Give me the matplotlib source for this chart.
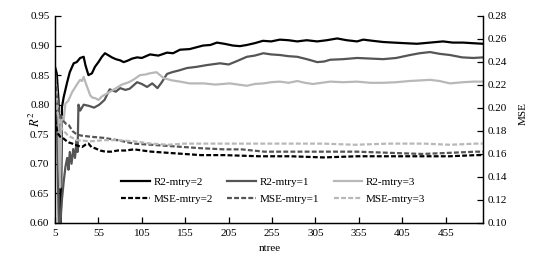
import matplotlib
matplotlib.use("Agg")
import matplotlib.pyplot as plt
import numpy as np

plt.rcParams['font.family'] = ['Liberation Serif', 'DejaVu Serif']
plt.rcParams['mathtext.fontset'] = 'stix'
plt.rcParams['font.size'] = 8

# R2 series (left axis)
n_r2_m2 = [5, 7, 9, 11, 11.5, 13, 15, 19, 22, 26.5, 30, 34, 38, 40, 43.5, 47.5, 51, 55, 59, 62.5,
           66, 70.5, 75, 80, 84, 88, 94, 99.5, 105, 114.5, 124, 134, 141, 149, 160, 175.5, 184, 191.5,
           200, 210, 218, 226, 235, 244.5, 254, 264, 274, 284, 295, 307, 318, 330, 341, 353, 360, 371,
           383, 395, 408, 422, 437, 452, 463, 475, 486, 498]
r2_m2 = [0.864, 0.853, 0.808, 0.685, 0.57, 0.796, 0.813, 0.838, 0.855, 0.870, 0.872, 0.879, 0.881,
         0.867, 0.850, 0.853, 0.864, 0.872, 0.881, 0.887, 0.884, 0.880, 0.877, 0.875, 0.872, 0.874,
         0.878, 0.880, 0.879, 0.885, 0.883, 0.888, 0.887, 0.893, 0.894, 0.900, 0.901, 0.905, 0.903,
         0.900, 0.899, 0.901, 0.904, 0.908, 0.907, 0.910, 0.909, 0.907, 0.909, 0.907, 0.909, 0.912,
         0.909, 0.907, 0.910, 0.908, 0.906, 0.905, 0.904, 0.903, 0.905, 0.907, 0.905, 0.905, 0.904, 0.903]

n_r2_m1 = [5, 7, 9, 10, 12, 13, 15, 17, 19, 20.5, 22, 24, 26, 28, 30, 31, 32, 34, 38, 44, 50, 56, 62,
           68, 75, 80, 86, 91, 99.5, 105, 111, 117, 123, 128, 134, 140, 148, 157, 168, 180, 195, 205,
           215, 226, 235, 245, 254, 264, 274, 284, 295, 307, 315, 322, 337, 353, 368, 383, 398, 414,
           425, 437, 448, 460, 474, 487, 498]
r2_m1 = [0.835, 0.80, 0.62, 0.56, 0.62, 0.64, 0.67, 0.695, 0.71, 0.69, 0.72, 0.70, 0.725, 0.71, 0.74,
         0.72, 0.80, 0.79, 0.80, 0.798, 0.795, 0.80, 0.808, 0.826, 0.822, 0.828, 0.825, 0.827, 0.838,
         0.835, 0.830, 0.836, 0.828, 0.838, 0.852, 0.855, 0.858, 0.862, 0.864, 0.867, 0.870, 0.868,
         0.874, 0.881, 0.883, 0.887, 0.885, 0.884, 0.882, 0.881, 0.877, 0.872, 0.873, 0.876, 0.877,
         0.879, 0.878, 0.877, 0.879, 0.884, 0.887, 0.889, 0.886, 0.884, 0.880, 0.879, 0.880]

n_r2_m3 = [5, 7, 9, 10, 11, 12, 13, 15, 17, 20, 22.5, 25, 28.5, 31, 34, 36, 38, 40, 42, 45.5, 48,
           51.5, 55, 59, 65, 72, 82, 90, 95, 103, 109, 114, 122, 130, 140, 149, 160, 176, 190, 206,
           216, 226, 235, 245, 254, 264, 274, 284, 293, 302, 312, 322, 337, 353, 368, 383, 398, 413,
           425, 437, 448, 460, 475, 487, 498]
r2_m3 = [0.853, 0.82, 0.78, 0.70, 0.66, 0.75, 0.78, 0.775, 0.802, 0.806, 0.814, 0.822, 0.830, 0.836,
         0.842, 0.840, 0.847, 0.838, 0.830, 0.816, 0.812, 0.811, 0.808, 0.814, 0.819, 0.825, 0.834,
         0.838, 0.842, 0.850, 0.851, 0.853, 0.855, 0.845, 0.841, 0.839, 0.836, 0.836, 0.834, 0.836,
         0.834, 0.832, 0.835, 0.836, 0.838, 0.839, 0.837, 0.840, 0.837, 0.835, 0.837, 0.839, 0.838,
         0.839, 0.837, 0.837, 0.838, 0.840, 0.841, 0.842, 0.840, 0.836, 0.838, 0.839, 0.839]

# MSE series (right axis)
n_mse_m2 = [5, 8, 11, 14, 17, 21, 25, 28, 32, 36, 40, 43.5, 47, 51, 57, 63, 70, 77, 86, 96, 106,
            116, 135, 154, 173, 200, 240, 276, 314, 353, 390, 428, 460, 490, 498]
mse_m2 = [0.19, 0.178, 0.175, 0.174, 0.172, 0.170, 0.169, 0.168, 0.167, 0.166, 0.168, 0.169, 0.166,
          0.165, 0.163, 0.162, 0.162, 0.163, 0.163, 0.164, 0.163, 0.162, 0.161, 0.160, 0.159, 0.159,
          0.158, 0.158, 0.157, 0.158, 0.158, 0.158, 0.158, 0.159, 0.159]

n_mse_m1 = [5, 7, 9, 13, 18, 21, 25, 30, 35, 46, 61, 77, 96, 116, 135, 154, 173, 200, 220, 246, 276,
            295, 330, 353, 390, 428, 460, 490, 498]
mse_m1 = [0.225, 0.21, 0.198, 0.19, 0.186, 0.185, 0.18, 0.177, 0.176, 0.175, 0.174, 0.172, 0.169,
          0.168, 0.167, 0.166, 0.165, 0.164, 0.164, 0.162, 0.162, 0.162, 0.162, 0.162, 0.161, 0.160,
          0.161, 0.162, 0.162]

n_mse_m3 = [5, 8, 12.7, 20, 30, 46, 61, 77, 96, 116, 135, 154, 173, 200, 246, 276, 314, 350, 390,
            430, 460, 490, 498]
mse_m3 = [0.215, 0.195, 0.182, 0.176, 0.172, 0.171, 0.172, 0.172, 0.171, 0.169, 0.168, 0.169, 0.169,
          0.169, 0.169, 0.169, 0.169, 0.168, 0.169, 0.169, 0.168, 0.169, 0.169]

xticks = [5, 55, 105, 155, 205, 255, 305, 355, 405, 455]

black = '#000000'
dark = '#555555'
light = '#b8b8b8'

fig = plt.figure(figsize=(5.58, 2.62), dpi=100)
ax = fig.add_axes([0.0986, 0.149, 0.767, 0.790])
ax2 = ax.twinx()

dash = (2.2, 1.0)
l1, = ax.plot(n_r2_m2, r2_m2, color=black, lw=1.6, label='R2-mtry=2')
l2, = ax.plot(n_r2_m1, r2_m1, color=dark, lw=1.6, label='R2-mtry=1')
l3, = ax.plot(n_r2_m3, r2_m3, color=light, lw=1.6, label='R2-mtry=3')
m1, = ax2.plot(n_mse_m2, mse_m2, color=black, lw=1.6, dashes=dash, label='MSE-mtry=2')
m2, = ax2.plot(n_mse_m1, mse_m1, color=dark, lw=1.6, dashes=dash, label='MSE-mtry=1')
m3, = ax2.plot(n_mse_m3, mse_m3, color=light, lw=1.6, dashes=dash, label='MSE-mtry=3')

ax.set_xlim(5, 498)
ax.set_ylim(0.60, 0.95)
ax2.set_ylim(0.10, 0.28)
ax.set_xticks(xticks)
ax.set_yticks(np.arange(0.60, 0.951, 0.05))
ax2.set_yticks(np.arange(0.10, 0.281, 0.02))
ax.yaxis.set_major_formatter(matplotlib.ticker.FormatStrFormatter('%.2f'))
ax2.yaxis.set_major_formatter(matplotlib.ticker.FormatStrFormatter('%.2f'))

for a in (ax, ax2):
    a.spines['top'].set_visible(False)
    for s in a.spines.values():
        s.set_linewidth(0.9)
    a.tick_params(direction='in', length=4, width=0.9, labelsize=8)
ax.tick_params(axis='y', pad=4)
ax.tick_params(axis='x', pad=4)
ax2.tick_params(axis='y', pad=3)

ax.set_xlabel('ntree', fontsize=8)
ax.xaxis.set_label_coords(0.502, -0.10)
ax.set_ylabel(r'$R^2$', fontsize=9)
ax.yaxis.set_label_coords(-0.028, 0.50)
ax2.set_ylabel('MSE', fontsize=8)
ax2.yaxis.set_label_coords(1.084, 0.53)

ax2.legend([l1, m1, l2, m2, l3, m3],
           ['R2-mtry=2', 'MSE-mtry=2', 'R2-mtry=1', 'MSE-mtry=1', 'R2-mtry=3', 'MSE-mtry=3'],
           ncol=3, frameon=False, loc='lower center', bbox_to_anchor=(0.51, 0.045),
           handlelength=2.6, columnspacing=1.3, handletextpad=0.3, labelspacing=0.6,
           fontsize=8)

fig.savefig('out.png', dpi=100)
